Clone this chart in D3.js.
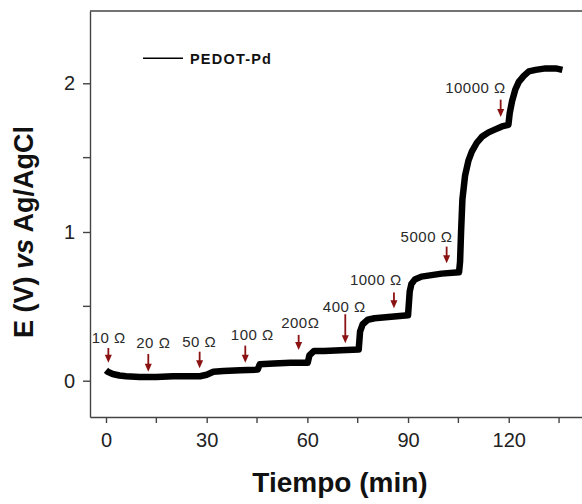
<!DOCTYPE html>
<html><head><meta charset="utf-8">
<script src="https://cdn.jsdelivr.net/npm/d3@7"></script>
<style>body{margin:0;background:#fff}svg{display:block}</style>
</head><body>
<svg id="c" width="582" height="504"></svg>
<script>
// time (min)
const timeMin = [0,0.5,2,4,6,10,15,20,25,28,30,32,35,40,45.2,45.8,50,55,60.1,60.6,62,65,70,75.3,75.7,76.5,78,80,85,90.0,90.5,91,92,94,97,100,105.2,105.5,105.8,106.2,107,108,109,110.5,112,114,116,118,119.9,120.3,121,122,123,124.5,126,128,131,134,136];
// potential E (V) vs Ag/AgCl
const potential = [0.07,0.06,0.045,0.035,0.03,0.025,0.025,0.03,0.03,0.03,0.04,0.06,0.065,0.07,0.075,0.11,0.115,0.12,0.12,0.17,0.2,0.2,0.205,0.21,0.33,0.38,0.41,0.42,0.43,0.44,0.6,0.65,0.68,0.7,0.71,0.72,0.73,0.8,1.0,1.22,1.38,1.48,1.54,1.6,1.64,1.67,1.69,1.71,1.72,1.8,1.88,1.96,2.01,2.05,2.08,2.09,2.1,2.1,2.09];
const xTicks = [0,30,60,90,120];
const xMinor = [15,45,75,105,135];
const yTicks = [0,1,2];
const yMinor = [0.5,1.5];
// resistance annotations
const annLabels = ["10 Ω","20 Ω","50 Ω","100 Ω","200Ω","400 Ω","1000 Ω","5000 Ω","10000 Ω"];
const annLabelT = [0.8,14.1,27.8,43.6,57.9,71.0,80.4,95.5,110.1];
const annLabelV = [0.287,0.256,0.263,0.312,0.389,0.498,0.678,0.97,1.969];
const arrowT = [0.7,12.6,27.9,41.5,57.4,71.3,85.8,101.5,117.6];
const arrowTop = [0.22,0.18,0.195,0.236,0.308,0.447,0.593,0.902,1.89];
const arrowBot = [0.12,0.06,0.083,0.121,0.207,0.252,0.488,0.79,1.774];
const seriesName = "PEDOT-Pd";

const svg = d3.select("#c");
const x = d3.scaleLinear().domain([-4.77,147.2]).range([90,600]);
const y = d3.scaleLinear().domain([-0.244,2.486]).range([417,11]);
const axisColor = "#444";
const font = "'Liberation Sans', Arial, sans-serif";

// frame top line
svg.append("line").attr("x1",90).attr("x2",600).attr("y1",11).attr("y2",11)
  .attr("stroke",axisColor).attr("stroke-width",1.4);

// x axis
const gx = svg.append("g").attr("transform","translate(0,417)")
  .call(d3.axisBottom(x).tickValues(xTicks).tickFormat(d3.format("d")).tickSize(6).tickPadding(10).tickSizeOuter(0));
gx.append("g").selectAll("line").data(xMinor).join("line")
  .attr("x1",d=>x(d)).attr("x2",d=>x(d)).attr("y1",0).attr("y2",6).attr("stroke",axisColor).attr("stroke-width",1.4);
// y axis
const gy = svg.append("g").attr("transform","translate(90,0)")
  .call(d3.axisLeft(y).tickValues(yTicks).tickFormat(d3.format("d")).tickSize(7).tickPadding(8).tickSizeOuter(0));
gy.append("g").selectAll("line").data(yMinor).join("line")
  .attr("y1",d=>y(d)).attr("y2",d=>y(d)).attr("x1",0).attr("x2",-7).attr("stroke",axisColor).attr("stroke-width",1.4);
[gx,gy].forEach(g=>{
  g.select(".domain").attr("stroke",axisColor).attr("stroke-width",1.4);
  g.selectAll(".tick line").attr("stroke",axisColor).attr("stroke-width",1.4);
  g.selectAll(".tick text").attr("fill","#222").style("font-family",font).style("font-size","20px");
});

// data trace
const line = d3.line().x(d=>x(d[0])).y(d=>y(d[1]));
svg.append("path").datum(timeMin.map((t,i)=>[t,potential[i]]))
  .attr("d",line).attr("fill","none").attr("stroke","#000").attr("stroke-width",6.5)
  .attr("stroke-linejoin","round");

// annotations
const arrowColor = "#8b1212";
annLabels.forEach((lab,i)=>{
  svg.append("text").attr("x",x(annLabelT[i])).attr("y",y(annLabelV[i])).attr("dy","0.36em")
    .attr("text-anchor","middle").attr("fill","#2a2a2a").style("font-family",font)
    .style("font-size","15px").style("letter-spacing","0.5px").text(lab);
  const ax = x(arrowT[i]), y0 = y(arrowTop[i]), y1 = y(arrowBot[i]);
  svg.append("line").attr("x1",ax).attr("x2",ax).attr("y1",y0).attr("y2",y1-6)
    .attr("stroke",arrowColor).attr("stroke-width",1.8);
  svg.append("path").attr("d",`M${ax-3.5},${y1-8} L${ax+3.5},${y1-8} L${ax},${y1} Z`).attr("fill",arrowColor);
});

// legend
svg.append("line").attr("x1",143).attr("x2",183).attr("y1",58.3).attr("y2",58.3).attr("stroke","#000").attr("stroke-width",1.5);
svg.append("text").attr("x",190).attr("y",64).attr("fill","#111").style("font-family",font)
  .style("font-size","14.5px").style("font-weight","bold").style("letter-spacing","1.2px").text(seriesName);

// axis titles
svg.append("text").attr("x",340).attr("y",492).attr("text-anchor","middle").attr("fill","#111")
  .style("font-family",font).style("font-size","28px").style("font-weight","bold").text("Tiempo (min)");
const yt = svg.append("text").attr("transform","translate(33,232) rotate(-90)").attr("text-anchor","middle")
  .attr("fill","#111").style("font-family",font).style("font-size","27px").style("font-weight","bold");
yt.append("tspan").text("E (V) ");
yt.append("tspan").style("font-style","italic").text("vs");
yt.append("tspan").text(" Ag/AgCl");
</script>
</body></html>
